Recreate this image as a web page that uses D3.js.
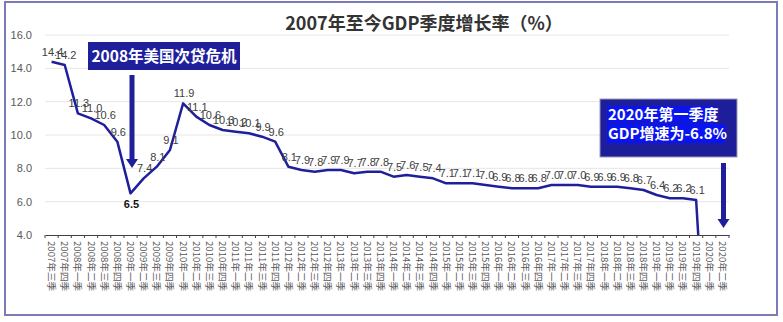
<!DOCTYPE html>
<html><head><meta charset="utf-8">
<script src="https://cdn.jsdelivr.net/npm/d3@7"></script>
<style>
html,body{margin:0;padding:0;background:#fff;}
svg{display:block;}
</style></head>
<body>
<svg id="c" width="783" height="322"></svg>
<script>
const title = "2007年至今GDP季度增长率（%）";
const categories = [
 "2007年三季","2007年四季",
 "2008年一季","2008年二季","2008年三季","2008年四季",
 "2009年一季","2009年二季","2009年三季","2009年四季",
 "2010年一季","2010年二季","2010年三季","2010年四季",
 "2011年一季","2011年二季","2011年三季","2011年四季",
 "2012年一季","2012年二季","2012年三季","2012年四季",
 "2013年一季","2013年二季","2013年三季","2013年四季",
 "2014年一季","2014年二季","2014年三季","2014年四季",
 "2015年一季","2015年二季","2015年三季","2015年四季",
 "2016年一季","2016年二季","2016年三季","2016年四季",
 "2017年一季","2017年二季","2017年三季","2017年四季",
 "2018年一季","2018年二季","2018年三季","2018年四季",
 "2019年一季","2019年二季","2019年三季","2019年四季",
 "2020年一季","2020年二季"
];
const gdpGrowth = [
 14.4,14.2,
 11.3,11.0,10.6,9.6,
 6.5,7.4,8.1,9.1,
 11.9,11.1,10.6,10.3,
 10.2,10.1,9.9,9.6,
 8.1,7.9,7.8,7.9,
 7.9,7.7,7.8,7.8,
 7.5,7.6,7.5,7.4,
 7.1,7.1,7.1,7.0,
 6.9,6.8,6.8,6.8,
 7.0,7.0,7.0,6.9,
 6.9,6.9,6.8,6.7,
 6.4,6.2,6.2,6.1,
 -6.8,null
];
const yTicks = [4,6,8,10,12,14,16];
const boldLabelIndex = 6;
const annotation1 = "2008年美国次贷危机";
const annotation2 = ["2020年第一季度","GDP增速为-6.8%"];

const svg = d3.select("#c");
const W = 783, H = 322;
const m = {left:45, right:54, top:35, bottom:87};
const x = d3.scaleBand().domain(categories).range([m.left, W - m.right]).padding(0);
const y = d3.scaleLinear().domain([4,16]).range([H - m.bottom, m.top]);
const numFont = "'Liberation Sans', Arial, 'Noto Sans CJK SC', sans-serif";
const cjkFont = "'Noto Sans CJK SC', 'Liberation Sans', sans-serif";
const navy = "#1f1f9c";

// outer border
svg.append("rect").attr("x",5).attr("y",2).attr("width",772).attr("height",313)
  .attr("fill","#fff").attr("stroke","#7b7bb8").attr("stroke-width",2);

// gridlines
svg.append("g").selectAll("line").data(yTicks.filter(d=>d>4)).join("line")
  .attr("x1",m.left).attr("x2",W-m.right)
  .attr("y1",d=>y(d)).attr("y2",d=>y(d))
  .attr("stroke","#e6e6e6").attr("stroke-width",1);

// y labels
svg.append("g").selectAll("text").data(yTicks).join("text")
  .attr("x",32).attr("y",d=>y(d)+4)
  .attr("text-anchor","end").attr("font-family",numFont).attr("font-size",11)
  .attr("fill","#595959").text(d=>d.toFixed(1));

// x axis
const xAxis = d3.axisBottom(x).tickSize(0).tickFormat("");
const gx = svg.append("g").attr("transform",`translate(0,${y(4)})`).call(xAxis);
gx.select(".domain").attr("stroke","#404040").attr("stroke-width",1.2);
const bounds = categories.map(c=>x(c)).concat([x(categories[categories.length-1])+x.bandwidth()]);
gx.selectAll(".btick").data(bounds).join("line").attr("class","btick")
  .attr("x1",d=>d).attr("x2",d=>d).attr("y1",0).attr("y2",3)
  .attr("stroke","#404040").attr("stroke-width",1);
svg.append("g").selectAll("text").data(categories).join("text")
  .attr("transform",c=>`translate(${x(c)+x.bandwidth()/2-3.5},${y(4)+6}) rotate(90)`)
  .attr("text-anchor","start").attr("font-family",cjkFont).attr("font-size",9.6)
  .attr("fill","#595959").text(c=>c);

// line (clipped)
svg.append("clipPath").attr("id","clip").append("rect")
  .attr("x",m.left).attr("y",m.top-20).attr("width",W-m.left-m.right).attr("height",y(4)-m.top+20);
const pts = categories.map((c,i)=>({c, v:gdpGrowth[i], i})).filter(d=>d.v!=null);
const line = d3.line().x(d=>x(d.c)+x.bandwidth()/2).y(d=>y(d.v));
svg.append("path").datum(pts).attr("d",line).attr("clip-path","url(#clip)")
  .attr("fill","none").attr("stroke",navy).attr("stroke-width",2.5).attr("stroke-linejoin","round");

// data labels
svg.append("g").selectAll("text").data(pts.filter(d=>d.v>=4)).join("text")
  .attr("x",d=>x(d.c)+x.bandwidth()/2+1)
  .attr("y",d=>d.i===boldLabelIndex ? y(d.v)+15 : y(d.v)-6)
  .attr("text-anchor","middle").attr("font-family",numFont)
  .attr("font-size",11)
  .attr("font-weight",d=>d.i===boldLabelIndex?"bold":"normal")
  .attr("fill",d=>d.i===boldLabelIndex?"#111":"#404040")
  .text(d=>d.v.toFixed(1));

// title
svg.append("text").attr("x",424).attr("y",30).attr("text-anchor","middle")
  .attr("font-family",cjkFont).attr("font-size",18).attr("font-weight","bold")
  .attr("fill","#333").text(title);

// annotation 1
svg.append("rect").attr("x",88).attr("y",42).attr("width",152).attr("height",28).attr("fill",navy);
svg.append("text").attr("x",164).attr("y",62).attr("text-anchor","middle")
  .attr("font-family",cjkFont).attr("font-size",15.5).attr("font-weight","bold")
  .attr("fill","#fff").text(annotation1);
function arrow(cx, y0, y1){
  const g = svg.append("g").attr("fill",navy);
  g.append("rect").attr("x",cx-2.5).attr("y",y0).attr("width",5).attr("height",y1-y0-8);
  g.append("path").attr("d",`M${cx-6},${y1-9}L${cx+6},${y1-9}L${cx},${y1}Z`);
}
arrow(132, 75, 168);

// annotation 2
svg.append("rect").attr("x",600).attr("y",99).attr("width",137).attr("height",58)
  .attr("fill","#1e1e9a").attr("stroke","#9a9ab8").attr("stroke-width",1);
svg.append("rect").attr("x",607).attr("y",106).attr("width",109).attr("height",17).attr("fill","#0a14f0");
svg.append("rect").attr("x",607).attr("y",124).attr("width",118).attr("height",19).attr("fill","#0a14f0");
svg.append("g").selectAll("text").data(annotation2).join("text")
  .attr("x",608).attr("y",(d,i)=>120+i*19)
  .attr("font-family",cjkFont).attr("font-size",15).attr("font-weight","bold")
  .attr("fill","#fff").text(d=>d);
arrow(723.5, 163, 228);
</script>
</body></html>
